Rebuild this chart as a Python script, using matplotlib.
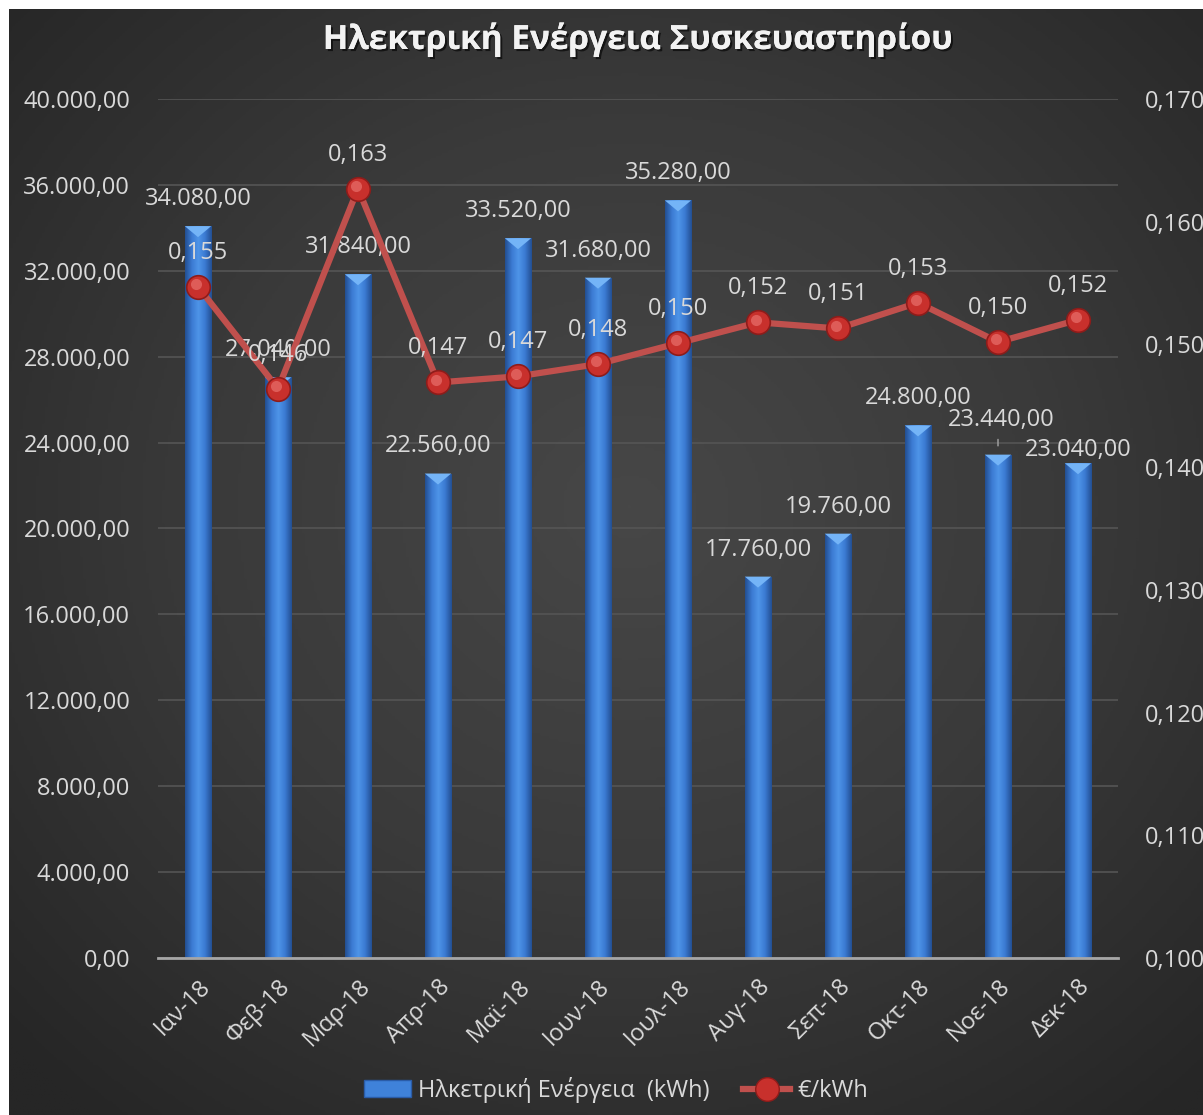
import numpy as np
import matplotlib
matplotlib.use('Agg')
import matplotlib.pyplot as plt
from matplotlib.ticker import FuncFormatter, MultipleLocator
import matplotlib.patheffects as pe
from matplotlib.patches import Rectangle, Polygon
from matplotlib.lines import Line2D
from matplotlib.colors import LinearSegmentedColormap
from matplotlib.transforms import ScaledTranslation

plt.rcParams['font.family'] = ['Open Sans', 'DejaVu Sans']

title = 'Ηλεκτρική Ενέργεια Συσκευαστηρίου'
months = ['Ιαν-18', 'Φεβ-18', 'Μαρ-18', 'Απρ-18', 'Μαϊ-18', 'Ιουν-18',
          'Ιουλ-18', 'Αυγ-18', 'Σεπ-18', 'Οκτ-18', 'Νοε-18', 'Δεκ-18']
energy = [34080, 27040, 31840, 22560, 33520, 31680, 35280, 17760, 19760, 24800, 23440, 23040]
price = [0.1547, 0.1464, 0.1627, 0.1469, 0.1474, 0.1484, 0.1501, 0.1518, 0.1513, 0.1534, 0.1502, 0.1520]
energy_label = 'Ηλκετρική Ενέργεια  (kWh)'
price_label = '€/kWh'

TXT = '#d9d9d9'
FS = 17

def fmt_energy(v, pos=None):
    s = f'{v:,.2f}'
    return s.replace(',', 'X').replace('.', ',').replace('X', '.')

def fmt_price(v, pos=None):
    return f'{v:.3f}'.replace('.', ',')

W, H = 1203, 1115
fig = plt.figure(figsize=(W / 100, H / 100), dpi=100, facecolor='white')

# background with radial gradient
bg = fig.add_axes([9 / W, 0, 1 - 9 / W, 1 - 9 / H], zorder=-10)
yy, xx = np.mgrid[0:1:400j, 0:1:400j]
d = np.sqrt(((xx - 0.52) / 0.75) ** 2 + ((yy - 0.45) / 0.75) ** 2)
d = np.clip(d / 0.95, 0, 1)
cmap_bg = LinearSegmentedColormap.from_list('bg', ['#474747', '#3a3a3a', '#262626'])
bg.imshow(d, cmap=cmap_bg, aspect='auto', extent=[0, 1, 0, 1], origin='upper', vmin=0, vmax=1)
bg.set_axis_off()

L, R, T, B = 158 / W, 1118 / W, 1 - 99 / H, 1 - 958 / H
ax = fig.add_axes([L, B, R - L, T - B])
ax.set_facecolor('none')
ax2 = ax.twinx()

x = np.arange(len(months))
bars = ax.bar(x, energy, width=0.33, color='#3a78d0', zorder=2)

grad = LinearSegmentedColormap.from_list('bar', ['#234f92', '#3b7ad2', '#4f95e8', '#3b7ad2', '#234f92'])
ax.set_xlim(-0.5, len(months) - 0.5)
ax.set_ylim(0, 40000)
for b in bars:
    x0, w, h = b.get_x(), b.get_width(), b.get_height()
    im = ax.imshow(np.linspace(0, 1, 64).reshape(1, -1), cmap=grad, aspect='auto',
                   extent=[x0, x0 + w, 0, h], zorder=2.1)
    im.set_clip_path(b)
    dv = 40000 * 11 / 859
    tri = Polygon([[x0, h], [x0 + w, h], [x0 + w * 0.5, h - dv]], closed=True,
                  facecolor='#74b4f7', edgecolor='none', zorder=2.2)
    ax.add_patch(tri)
ax.set_xlim(-0.5, len(months) - 0.5)
ax.set_ylim(0, 40000)

ax.yaxis.set_major_locator(MultipleLocator(4000))
ax.yaxis.set_major_formatter(FuncFormatter(fmt_energy))
ax.grid(axis='y', color='#555555', lw=1.2, zorder=0)
ax.set_axisbelow(True)
for s in ['top', 'right', 'left']:
    ax.spines[s].set_visible(False)
ax.spines['bottom'].set_color('#a6a6a6')
ax.spines['bottom'].set_linewidth(2)
ax.tick_params(axis='y', length=0, pad=20, labelsize=FS, labelcolor=TXT)
ax.set_xticks(x)
ax.set_xticklabels(months, rotation=45, ha='right', rotation_mode='anchor')
ax.tick_params(axis='x', length=0, pad=12, labelsize=FS, labelcolor=TXT)

# line on secondary axis
ax2.set_ylim(0.100, 0.170)
ax2.yaxis.set_major_locator(MultipleLocator(0.01))
ax2.yaxis.set_major_formatter(FuncFormatter(fmt_price))
ax2.tick_params(axis='y', length=0, pad=19, labelsize=FS, labelcolor=TXT)
for s in ax2.spines.values():
    s.set_visible(False)
ax2.plot(x, price, color='#c0504d', lw=4.5, zorder=3, solid_joinstyle='round')
ax2.plot(x, price, ls='none', marker='o', ms=17, mfc='#c8302c', mec='#8e1c1a', mew=1.2, zorder=4)
hl = ax2.transData + ScaledTranslation(-1.5 / 72, 2 / 72, fig.dpi_scale_trans)
ax2.plot(x, price, ls='none', marker='o', ms=8, mfc='#e8706c', mec='none', alpha=0.7,
         transform=hl, zorder=5)

# bar labels
bar_off = {10: (2, 25), 11: (0, 9.5)}
for i, v in enumerate(energy):
    dx, dy = bar_off.get(i, (0, 19.5))
    ax.annotate(fmt_energy(v), (x[i], v), xytext=(dx, dy), textcoords='offset points',
                ha='center', va='center', fontsize=FS, color=TXT, zorder=6)
ax.annotate('', (x[10], energy[10] + 40000 * 6 / 859), xytext=(x[10], energy[10] + 40000 * 18 / 859),
            arrowprops=dict(arrowstyle='-', color='#a6a6a6', lw=1), zorder=6)

for i, v in enumerate(price):
    ax2.annotate(fmt_price(v), (x[i], v), xytext=(0, 24.5), textcoords='offset points',
                 ha='center', va='center', fontsize=FS, color=TXT, zorder=6)

# title
fig.text(638 / W, 1 - 40 / H, title, ha='center', va='center', fontsize=24, fontweight='bold',
         color='#f2f2f2',
         path_effects=[pe.withSimplePatchShadow(offset=(1.5, -1.5), shadow_rgbFace='black', alpha=0.6), pe.Normal()])

# legend
h_bar = Rectangle((0, 0), 1, 1, facecolor='#3f82da', edgecolor='#2a5ca8', lw=1)
h_line = Line2D([], [], color='#c0504d', lw=4.5, marker='o', ms=17, mfc='#c8302c', mec='#8e1c1a')
leg = fig.legend([h_bar, h_line], [energy_label, price_label], loc='center',
                 bbox_to_anchor=(616 / W, 1 - 1090 / H), ncol=2, frameon=False, fontsize=FS,
                 labelcolor=TXT, handlelength=2.0, handletextpad=0.3, columnspacing=1.4)

fig.savefig('out.png', dpi=100, facecolor='white')
